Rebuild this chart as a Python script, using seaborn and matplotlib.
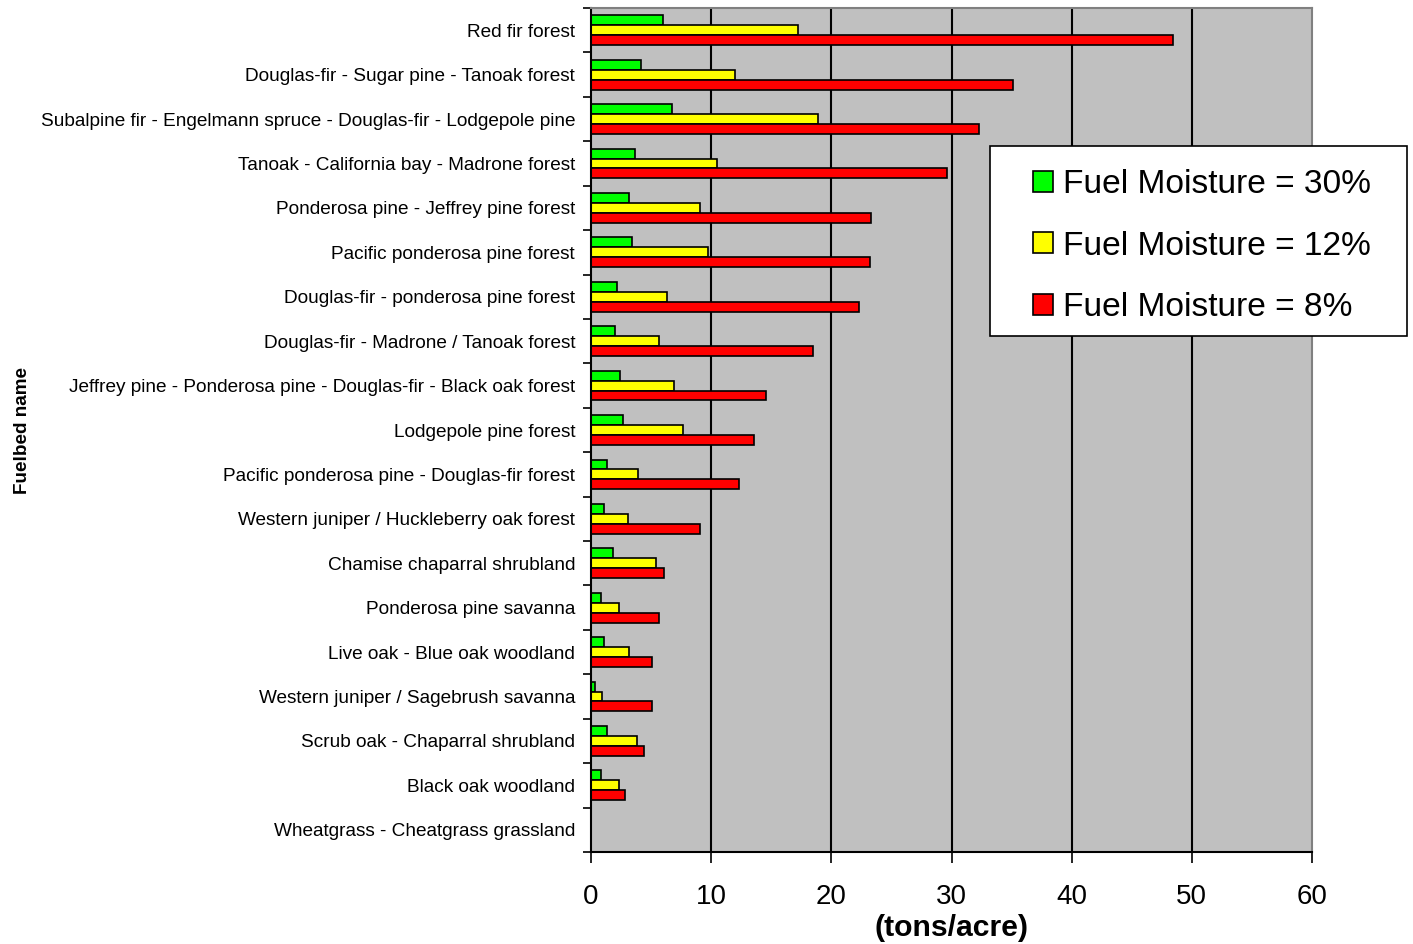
import numpy as np
import pandas as pd
import matplotlib
matplotlib.use("Agg")
import matplotlib.pyplot as plt
import seaborn as sns
from matplotlib.patches import Patch, Rectangle

categories = [
    "Red fir forest",
    "Douglas-fir - Sugar pine - Tanoak forest",
    "Subalpine fir - Engelmann spruce - Douglas-fir - Lodgepole pine",
    "Tanoak - California bay - Madrone forest",
    "Ponderosa pine - Jeffrey pine forest",
    "Pacific ponderosa pine forest",
    "Douglas-fir - ponderosa pine forest",
    "Douglas-fir - Madrone / Tanoak forest",
    "Jeffrey pine - Ponderosa pine - Douglas-fir - Black oak forest",
    "Lodgepole pine forest",
    "Pacific ponderosa pine - Douglas-fir forest",
    "Western juniper / Huckleberry oak forest",
    "Chamise chaparral shrubland",
    "Ponderosa pine savanna",
    "Live oak - Blue oak woodland",
    "Western juniper / Sagebrush savanna",
    "Scrub oak - Chaparral shrubland",
    "Black oak woodland",
    "Wheatgrass - Cheatgrass grassland",
]
moist30 = [6.0, 4.2, 6.7, 3.7, 3.2, 3.45, 2.2, 2.0, 2.45, 2.7, 1.33, 1.1, 1.85, 0.86, 1.1, 0.36, 1.33, 0.86, 0.0]
moist12 = [17.2, 12.0, 18.9, 10.5, 9.1, 9.7, 6.3, 5.7, 6.9, 7.65, 3.95, 3.05, 5.4, 2.3, 3.2, 0.95, 3.8, 2.33, 0.0]
moist8 = [48.4, 35.1, 32.3, 29.6, 23.3, 23.2, 22.3, 18.5, 14.6, 13.6, 12.35, 9.1, 6.05, 5.65, 5.05, 5.05, 4.45, 2.83, 0.0]
series_names = ["Fuel Moisture = 30%", "Fuel Moisture = 12%", "Fuel Moisture = 8%"]
series_colors = ["#00FF00", "#FFFF00", "#FF0000"]
x_ticks = [0, 10, 20, 30, 40, 50, 60]

rows = []
for name, vals in zip(series_names, [moist30, moist12, moist8]):
    for c, v in zip(categories, vals):
        rows.append({"Fuelbed": c, "Series": name, "Value": v})
df = pd.DataFrame(rows)

sns.set_theme(style="white")
plt.rcParams["font.family"] = ["Liberation Sans", "DejaVu Sans"]
plt.rcParams["text.color"] = "black"
plt.rcParams["axes.labelcolor"] = "black"
plt.rcParams["xtick.color"] = "black"
plt.rcParams["ytick.color"] = "black"

W, H = 1413, 944
fig = plt.figure(figsize=(W / 100, H / 100), dpi=100)
ax = fig.add_axes([591 / W, 1 - 852 / H, (1312 - 591) / W, (852 - 8) / H])
ax.set_facecolor("#C0C0C0")

sns.barplot(data=df, y="Fuelbed", x="Value", hue="Series", order=categories,
            hue_order=series_names, palette=series_colors, orient="h",
            width=0.67, edgecolor="black", linewidth=1.2, ax=ax, legend=False,
            saturation=1)

n = len(categories)
ax.set_xlim(0, 60)
ax.set_ylim(n - 0.5, -0.5)
ax.set_xticks(x_ticks)
ax.set_xticklabels([str(t) for t in x_ticks], fontsize=20, color="black")
for t in x_ticks[1:-1]:
    ax.axvline(t, color="black", linewidth=1.5, zorder=0.5)
ax.set_axisbelow(True)

ax.set_yticks(range(n))
ax.set_yticklabels(categories, fontsize=13.7, color="black")
ax.set_yticks(np.arange(-0.5, n, 1), minor=True)
ax.tick_params(axis="y", which="major", length=0, pad=11.5)
ax.tick_params(axis="y", which="minor", length=6, width=1.2, color="black", direction="out", left=True)
ax.tick_params(axis="x", which="major", length=8, width=1.2, color="black", direction="out", bottom=True, pad=15)

for side in ["top", "right"]:
    ax.spines[side].set_color("#808080")
    ax.spines[side].set_linewidth(1.5)
for side in ["left", "bottom"]:
    ax.spines[side].set_color("black")
    ax.spines[side].set_linewidth(1.5)

ax.set_xlabel("(tons/acre)", fontsize=21.7, fontweight="bold", labelpad=3, color="black")
ax.set_ylabel("Fuelbed name", fontsize=13.6, fontweight="bold", color="black")
ax.yaxis.set_label_coords(-0.777, 0.5)

# legend frame
frame = Rectangle((990 / W, 1 - 336 / H), (1407 - 990) / W, (336 - 146) / H,
                  transform=fig.transFigure, facecolor="white", edgecolor="black",
                  linewidth=1.2, zorder=5)
fig.add_artist(frame)

handles = [Patch(facecolor=c, edgecolor="black", linewidth=1.2) for c in series_colors]
leg = fig.legend(handles, series_names, loc="upper left",
                 bbox_to_anchor=(1016 / W, 1 - 152 / H), borderaxespad=0,
                 fontsize=24.1, frameon=False, labelcolor="black",
                 handlelength=0.6, handleheight=0.6, handletextpad=0.3,
                 labelspacing=0.91, borderpad=0.51)
leg.set_zorder(6)

fig.savefig("out.png", dpi=100)
